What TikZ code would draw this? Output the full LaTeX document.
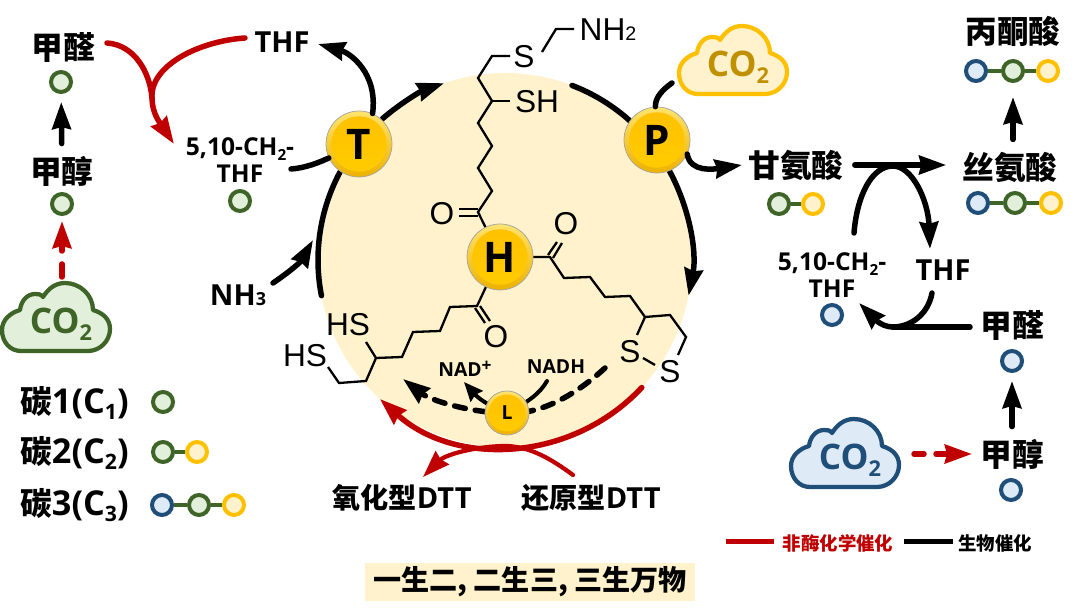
\documentclass[tikz,border=0pt]{standalone}
\usepackage{fontspec}
\usepackage{graphicx}
\setmainfont{Open Sans}
\newfontfamily\cjk{Noto Sans CJK SC}
\newfontfamily\chemfont{Liberation Sans}
\usetikzlibrary{arrows.meta}
\definecolor{creamfill}{HTML}{FFF2CC}
\definecolor{goldline}{HTML}{FFC000}
\definecolor{goldtext}{HTML}{BF9000}
\definecolor{greenfill}{HTML}{E2EFDA}
\definecolor{greenline}{HTML}{3F6428}
\definecolor{bluefill}{HTML}{DEEAF6}
\definecolor{blueline}{HTML}{1F4E79}
\definecolor{redline}{HTML}{C00000}
\definecolor{ballrimtop}{HTML}{FFE36E}
\definecolor{ballrimlow}{HTML}{EDB200}
\newcommand{\lowtext}[1]{\raisebox{-0.35ex}{\scalebox{0.62}{#1}}}
\newcommand{\basetext}[1]{\scalebox{0.62}{#1}}
\tikzset{
	x=0.2mm,y=0.2mm,
	zh/.style={inner sep=0pt,font=\bfseries\fontsize{18}{20}\selectfont},
	latinzh/.style={inner sep=0pt,font=\bfseries\fontsize{16.5}{20}\selectfont},
	legendzh/.style={inner sep=0pt,anchor=west,font=\bfseries\fontsize{19.5}{20}\selectfont},
	smalllab/.style={inner sep=0pt,align=center,font=\bfseries\fontsize{14}{15}\selectfont},
	chemlab/.style={inner sep=0pt,font=\chemfont\fontsize{18}{18}\selectfont},
	bond/.style={line width=0.46mm,line join=miter},
	atomC/.style={circle,draw=greenline,fill=greenfill,line width=0.8mm,minimum size=4mm,inner sep=0pt},
	atomN/.style={circle,draw=blueline,fill=bluefill,line width=0.8mm,minimum size=4mm,inner sep=0pt},
	atomO/.style={circle,draw=goldline,fill=creamfill,line width=0.8mm,minimum size=4mm,inner sep=0pt},
	link/.style={draw=greenline,line width=0.8mm},
	bigtip/.style={-{Stealth[length=5.4mm,width=3.7mm,inset=0.4mm]}},
	smalltip/.style={-{Stealth[length=3.8mm,width=3.2mm,inset=0.4mm]}},
	bio/.style={draw=black,line width=1.1mm,line cap=round},
	chem/.style={draw=redline,line width=1.1mm,line cap=round},
	ball/.style={circle,draw=black!35,line width=0.15mm,top color=ballrimtop,bottom color=ballrimlow,
		minimum size=#1,inner sep=0pt,
		path picture={\shade[top color=goldline,bottom color=goldline!80!yellow]
			(path picture bounding box.center) circle (0.42*#1);}},
	balllab/.style={inner sep=0pt,font=\bfseries\fontsize{24}{24}\selectfont},
	cloudtext/.style={inner sep=0pt,font=\bfseries\fontsize{20}{20}\selectfont},
	co2cloud/.pic={
		\path[pic actions,line width=0.85mm,line join=round] (-35,-34) -- (32,-34)
			.. controls (44,-34) and (54,-24) .. (54,-12)
			.. controls (54,-2) and (47,4) .. (37,7)
			.. controls (37,22) and (24,34) .. (9,34)
			.. controls (-1,34) and (-8,28) .. (-13,20)
			.. controls (-15,23) and (-18,23) .. (-21,23)
			.. controls (-29,23) and (-35,16) .. (-36,7)
			.. controls (-46,4) and (-54,-3) .. (-54,-13)
			.. controls (-54,-25) and (-46,-34) .. (-35,-34) -- cycle;
	},
}
\begin{document}
\begin{tikzpicture}
	\useasboundingbox (0,0) rectangle (1080,613);

	% Sirkel
	\coordinate (hub) at (505,353);
	\fill[creamfill] (hub) circle (37.4mm);

	% Kjede opp fra H
	\node[ball=13.2mm] (H) at (500,356) {};
	\node[chemlab] (nhTwo) at (608,583) {NH\basetext{2}};
	\node[chemlab] (sTop) at (524,556) {S};
	\node[chemlab] (shTop) at (537,511) {SH};
	\node[chemlab] (oTop) at (442,399) {O};
	\draw[bond] (574,584) -- (556,584) -- (542,561);
	\draw[bond] (510,557) -- (492,557) -- (478,535) -- (492,512) -- (478,490) -- (492,467)
		-- (478,445) -- (492,422) -- (478,401) -- (H);
	\draw[bond] (492,512) -- (510,512);
	\draw[bond] (478,404) -- (459,404) (478,397) -- (459,397);

	% Kjede til hoyre
	\node[chemlab] (oRight) at (566,389) {O};
	\node[chemlab] (sOne) at (630,261) {S};
	\node[chemlab] (sTwo) at (670,241) {S};
	\draw[bond] (H) -- (550,356) -- (564,335) -- (590,336) -- (605,316) -- (630,317)
		-- (645,296) -- (670,298) -- (686,276) -- (678,258);
	\draw[bond] (645,296) -- (637,278);
	\draw[bond] (643,255) -- (655,248);
	\draw[bond] (548,358) -- (557,371) (553,355) -- (562,370);

	% Kjede til venstre
	\node[chemlab] (oLeft) at (496,276) {O};
	\node[chemlab] (hsOne) at (348,288) {HS};
	\node[chemlab] (hsTwo) at (305,257) {HS};
	\draw[bond] (H) -- (477,307) -- (450,306) -- (440,282) -- (413,281) -- (402,256)
		-- (376,255) -- (366,232) -- (339,230) -- (328,246);
	\draw[bond] (376,255) -- (366,271);
	\draw[bond] (475,305) -- (485,290) (480,307) -- (490,292);

	% Buer langs sirkelen
	\draw[bio,bigtip] (hub) ++(131:37.4mm) arc (131:109:37.4mm);
	\draw[bio] (hub) ++(69:37.4mm) arc (69:48:37.4mm);
	\draw[bio,bigtip] (hub) ++(29:37.4mm) arc (29:-11:37.4mm);
	\draw[bio] (hub) ++(152:37.4mm) arc (152:191:37.4mm);

	% T og P
	\node[ball=13.2mm] (T) at (359,469) {};
	\node[ball=13.2mm] (P) at (657,473) {};
	\node[balllab] (Tlab) at (T) {T};
	\node[balllab] (Plab) at (P) {P};
	\node[balllab] (Hlab) at (H) {H};

	% Venstre side
	\node[zh] (faLeft) at (63,566) {\cjk 甲醛};
	\node[atomC] (faLeftC) at (61,531) {};
	\node[zh] (meLeft) at (62,442) {\cjk 甲醇};
	\node[atomC] (meLeftC) at (62,409) {};
	\pic[draw=greenline,fill=greenfill] at (56,296) {co2cloud};
	\node[cloudtext,text=greenline] (co2Left) at (61,289) {CO\lowtext{2}};
	\coordinate (cloudLeftTop) at (62,336);
	\draw[bio,bigtip,shorten <=2.4mm,shorten >=1.6mm] (meLeft) -- (faLeftC);
	\draw[chem,bigtip,dash pattern=on 2.6mm off 2.6mm,shorten >=1mm] (cloudLeftTop) -- (meLeftC);

	% THF, 5,10-CH2-THF og NH3
	\node[latinzh] (thfTop) at (282,571) {THF};
	\node[smalllab] (mthfLeft) at (240,453) {5,10-CH\lowtext{2}-\\THF};
	\node[atomC] (mthfLeftC) at (240,412) {};
	\node[latinzh] (nhThree) at (238,318) {NH\basetext{3}};
	\coordinate (faOut) at (107,570);
	\coordinate (thfOut) at (245,575);
	\coordinate (mthfTip) at (174,469);
	\coordinate (redJoin) at (152,515);
	\draw[chem,bigtip] (faOut) .. controls (135,568) and (150,540) .. (redJoin)
		.. controls (152,500) and (160,490) .. (mthfTip);
	\draw[chem] (thfOut) .. controls (200,572) and (150,548) .. (redJoin);
	\coordinate (thfTip) at (318,569);
	\draw[bio,bigtip] (T.66) .. controls (378,540) and (350,560) .. (thfTip);
	\coordinate (mthfOut) at (291,444);
	\draw[bio] (mthfOut) .. controls (305,445) and (318,450) .. (T);
	\coordinate (nhOut) at (273,330);
	\coordinate (nhTip) at (313,373);
	\draw[bio,bigtip] (nhOut) .. controls (285,338) and (300,350) .. (nhTip);

	% Legende venstre
	\node[legendzh] (cOne) at (20,210) {{\cjk\fontsize{18}{20}\selectfont 碳}1(C\lowtext{1})};
	\node[legendzh] (cTwo) at (20,160) {{\cjk\fontsize{18}{20}\selectfont 碳}2(C\lowtext{2})};
	\node[legendzh] (cThree) at (20,108) {{\cjk\fontsize{18}{20}\selectfont 碳}3(C\lowtext{3})};
	\node[atomC] (oneA) at (163,211) {};
	\node[atomC] (twoA) at (163,161) {};
	\node[atomO] (twoB) at (197,161) {};
	\node[atomN] (threeA) at (162,108) {};
	\node[atomC] (threeB) at (199,108) {};
	\node[atomO] (threeC) at (234,108) {};
	\draw[link] (twoA) -- (twoB);
	\draw[link] (threeA) -- (threeB);
	\draw[link] (threeB) -- (threeC);

	% CO2 ved P
	\pic[draw=goldline,fill=creamfill] at (733,553) {co2cloud};
	\node[cloudtext,text=goldtext] (co2Top) at (738,546) {CO\lowtext{2}};
	\coordinate (cloudTopOut) at (672,530);
	\draw[bio] (cloudTopOut) .. controls (662,523) and (655,515) .. (P);

	% Hoyre side
	\node[zh] (glyR) at (796,448) {\cjk 甘氨酸};
	\node[atomC] (glyA) at (779,409) {};
	\node[atomO] (glyB) at (813,409) {};
	\draw[link] (glyA) -- (glyB);
	\node[zh] (serR) at (1010,446) {\cjk 丝氨酸};
	\node[atomN] (serA) at (978,410) {};
	\node[atomC] (serB) at (1015,410) {};
	\node[atomO] (serC) at (1051,410) {};
	\draw[link] (serA) -- (serB);
	\draw[link] (serB) -- (serC);
	\node[zh] (pyrR) at (1013,582) {\cjk 丙酮酸};
	\node[atomN] (pyrA) at (976,542) {};
	\node[atomC] (pyrB) at (1013,542) {};
	\node[atomO] (pyrC) at (1048,542) {};
	\draw[link] (pyrA) -- (pyrB);
	\draw[link] (pyrB) -- (pyrC);
	\draw[bio,bigtip,shorten <=2.4mm,shorten >=2.8mm] (serR.north -| pyrB) -- (pyrB);
	\coordinate (glyTip) at (742,448);
	\draw[bio,bigtip] (P.-25) .. controls (690,440) and (715,444) .. (glyTip);
	\draw[bio,bigtip,shorten <=2.2mm,shorten >=3.2mm] (glyR) -- (serR.west |- glyR);

	\node[smalllab] (mthfR) at (832,338) {5,10-CH\lowtext{2}-\\THF};
	\node[atomN] (mthfRC) at (832,298) {};
	\node[latinzh] (thfR) at (943,343) {THF};
	\node[zh] (faR) at (1012,288) {\cjk 甲醛};
	\node[atomN] (faRC) at (1012,252) {};
	\node[zh] (meR) at (1012,159) {\cjk 甲醇};
	\node[atomN] (meRC) at (1011,123) {};
	\coordinate (archStart) at (854,380);
	\coordinate (archTop) at (893,447);
	\coordinate (thfTipR) at (930,364);
	\draw[bio] (archStart) .. controls (857,418) and (872,447) .. (archTop);
	\draw[bio,bigtip] (archTop) .. controls (912,447) and (928,413) .. (thfTipR);
	\coordinate (faROut) at (970,286);
	\coordinate (thfOutR) at (932,320);
	\coordinate (lowMid) at (893,286);
	\coordinate (mthfTipR) at (859,310);
	\draw[bio] (faROut) -- (lowMid);
	\draw[bio] (thfOutR) .. controls (928,298) and (910,286) .. (lowMid);
	\draw[bio,bigtip] (lowMid) .. controls (880,286) and (872,297) .. (mthfTipR);
	\draw[bio,bigtip,shorten <=2.4mm,shorten >=1.6mm] (meR) -- (faRC);

	\pic[draw=blueline,fill=bluefill] at (845,160) {co2cloud};
	\node[cloudtext,text=blueline] (co2R) at (850,153) {CO\lowtext{2}};
	\coordinate (cloudROut) at (914,159);
	\coordinate (meRIn) at (972,159);
	\draw[chem,bigtip,dash pattern=on 2mm off 2.4mm] (cloudROut) -- (meRIn);

	% L og NAD
	\coordinate (Lhub) at (507,200);
	\coordinate (dashStart) at (605,245);
	\coordinate (dashTip) at (403,234);
	\draw[bio,dash pattern=on 2.2mm off 2mm] (dashStart) .. controls (570,213) and (535,198) .. (Lhub);
	\draw[bio,bigtip,dash pattern=on 2.2mm off 2mm] (Lhub) .. controls (470,200) and (430,213) .. (dashTip);
	\node[inner sep=0pt,font=\bfseries\fontsize{11}{11}\selectfont] (nadPlus) at (465,244) {NAD\raisebox{0.5ex}{\scalebox{0.9}{+}}};
	\node[inner sep=0pt,font=\bfseries\fontsize{11}{11}\selectfont] (nadH) at (556,246) {NADH};
	\coordinate (nadhOut) at (547,232);
	\coordinate (nadTip) at (464,231);
	\draw[line width=0.8mm,line cap=round,smalltip] (Lhub) .. controls (480,210) and (472,222) .. (nadTip);
	\draw[line width=0.8mm,line cap=round] (nadhOut) .. controls (540,220) and (530,212) .. (Lhub);
	\node[ball=8.8mm,font=\bfseries\fontsize{11}{11}\selectfont] (L) at (Lhub) {L};

	% DTT
	\node[latinzh] (dttOx) at (402,115) {{\cjk\fontsize{16}{20}\selectfont 氧化型}DTT};
	\node[latinzh] (dttRed) at (591,115) {{\cjk\fontsize{16}{20}\selectfont 还原型}DTT};
	\coordinate (dttIn) at (573,138);
	\coordinate (dttMid) at (507,167);
	\coordinate (dttTip) at (423,136);
	\draw[chem,bigtip] (hub) ++(-43:37.4mm) arc (-43:-132:37.4mm);
	\draw[chem,line width=0.85mm] (dttIn) .. controls (550,155) and (530,166) .. (dttMid);
	\draw[chem,line width=0.85mm,bigtip] (dttMid) .. controls (475,167) and (445,158) .. (dttTip);

	% Legende hoyre
	\node[inner sep=0pt,text=redline,font=\bfseries\fontsize{10.5}{12}\selectfont] (legRed) at (838,70) {\cjk 非酶化学催化};
	\node[inner sep=0pt,font=\bfseries\fontsize{10.5}{12}\selectfont] (legBlack) at (995,70) {\cjk 生物催化};
	\coordinate (legRedA) at (726,71);
	\coordinate (legRedB) at (774,71);
	\coordinate (legBlackA) at (904,71);
	\coordinate (legBlackB) at (953,71);
	\draw[redline,line width=1mm] (legRedA) -- (legRedB);
	\draw[black,line width=1mm] (legBlackA) -- (legBlackB);

	% Boks nederst
	\node[fill=creamfill,minimum width=66mm,minimum height=7.4mm,inner sep=0pt,font=\bfseries\fontsize{16}{18}\selectfont]
		(motto) at (530,31) {\cjk 一生二, 二生三, 三生万物};
\end{tikzpicture}
\end{document}
